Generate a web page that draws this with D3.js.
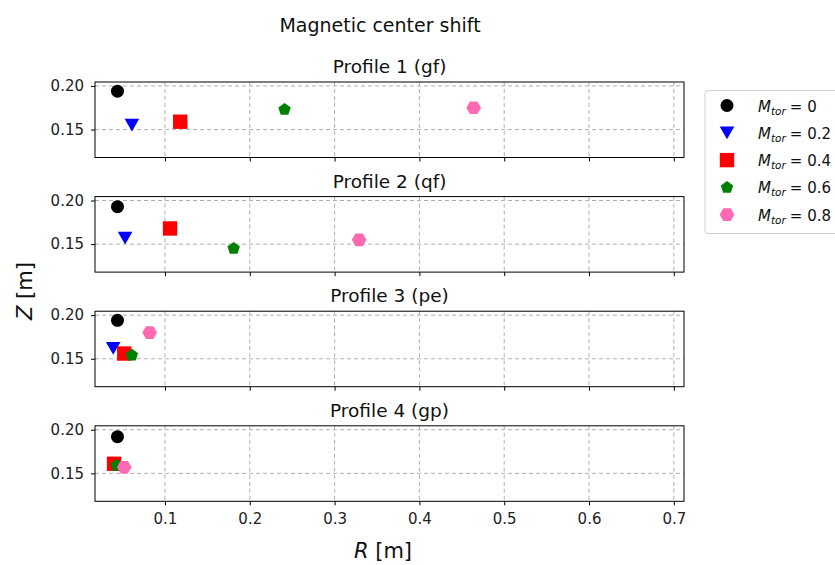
<!DOCTYPE html>
<html>
<head>
<meta charset="utf-8">
<script src="https://cdn.jsdelivr.net/npm/d3@7"></script>
<style>
  body { margin: 0; background: #fff; }
  svg { font-family: 'DejaVu Sans', sans-serif; }
</style>
</head>
<body>
<div id="chart"></div>
<script>
const profiles = ['Profile 1 (gf)', 'Profile 2 (qf)', 'Profile 3 (pe)', 'Profile 4 (gp)'];
const mtorValues = ['0', '0.2', '0.4', '0.6', '0.8'];
const markerColors = ['black', 'blue', 'red', 'green', 'hotpink'];
const markerShapes = ['circle', 'triangleDown', 'square', 'pentagon', 'hexagon'];
// one row per profile, one column per Mtor value
const rValues = [
    [0.044, 0.061, 0.118, 0.241, 0.464],
    [0.044, 0.053, 0.106, 0.181, 0.329],
    [0.044, 0.039, 0.052, 0.061, 0.082],
    [0.044, 0.040, 0.040, 0.043, 0.052],
];
const zValues = [
    [0.194, 0.155, 0.159, 0.173, 0.175],
    [0.193, 0.157, 0.168, 0.145, 0.155],
    [0.194, 0.162, 0.156, 0.154, 0.180],
    [0.192, 0.161, 0.161, 0.159, 0.157],
];
const xTicks = [0.1, 0.2, 0.3, 0.4, 0.5, 0.6, 0.7];
const yTicks = [0.15, 0.20];

const width = 835, height = 565;
const panel = { left: 95, right: 684, top: 82, step: 114.6, height: 75.5 };

const svg = d3.select('#chart').append('svg')
    .attr('width', width).attr('height', height);

const xScale = d3.scaleLinear().domain([0.0175, 0.712]).range([panel.left, panel.right]);

function markerPath(shape, s) {
    if (shape === 'circle') return d3.symbol(d3.symbolCircle, Math.PI * s * s)();
    if (shape === 'square') return d3.symbol(d3.symbolSquare, 4 * s * s)();
    let n, rot, r;
    if (shape === 'triangleDown') { n = 3; rot = Math.PI / 2; r = s * 1.3; }
    if (shape === 'pentagon') { n = 5; rot = -Math.PI / 2; r = s * 1.05; }
    if (shape === 'hexagon') { n = 6; rot = 0; r = s * 1.05; }
    const pts = d3.range(n).map(i => {
        const a = rot + i * 2 * Math.PI / n;
        return [r * Math.cos(a), r * Math.sin(a)];
    });
    if (shape === 'triangleDown') pts.forEach(p => p[1] -= r * 0.25);
    return 'M' + pts.map(p => p.join(',')).join('L') + 'Z';
}
const markerSize = [6.5, 6.5, 7.2, 6.2, 7];

profiles.forEach((title, i) => {
    const top = panel.top + i * panel.step;
    const bottom = top + panel.height;
    const yScale = d3.scaleLinear().domain([0.118, 0.2045]).range([bottom, top]);
    const g = svg.append('g');

    // grid
    g.append('g').selectAll('line').data(xTicks).join('line')
        .attr('x1', d => xScale(d)).attr('x2', d => xScale(d))
        .attr('y1', top).attr('y2', bottom)
        .attr('stroke', '#b0b0b0').attr('stroke-dasharray', '4,3').attr('stroke-width', 1);
    g.append('g').selectAll('line').data(yTicks).join('line')
        .attr('x1', panel.left).attr('x2', panel.right)
        .attr('y1', d => yScale(d)).attr('y2', d => yScale(d))
        .attr('stroke', '#b0b0b0').attr('stroke-dasharray', '4,3').attr('stroke-width', 1);

    // axes
    const xAxis = d3.axisBottom(xScale).tickValues(xTicks).tickSize(4).tickPadding(8)
        .tickFormat(i < profiles.length - 1 ? '' : d3.format('.1f'));
    const xg = g.append('g').attr('transform', `translate(0,${bottom})`).call(xAxis);
    const yg = g.append('g').attr('transform', `translate(${panel.left},0)`)
        .call(d3.axisLeft(yScale).tickValues(yTicks).tickFormat(d3.format('.2f')).tickSize(4).tickPadding(7));
    [xg, yg].forEach(a => {
        a.select('.domain').remove();
        a.selectAll('line').attr('stroke', '#000');
        a.selectAll('text').attr('fill', '#222').style('font-size', '15px')
            .style('font-family', "'DejaVu Sans', sans-serif");
    });

    g.append('rect')
        .attr('x', panel.left).attr('y', top)
        .attr('width', panel.right - panel.left).attr('height', panel.height)
        .attr('fill', 'none').attr('stroke', '#000').attr('stroke-width', 1);

    g.append('text')
        .attr('x', (panel.left + panel.right) / 2).attr('y', top - 9)
        .attr('text-anchor', 'middle').style('font-size', '18.5px').attr('fill', '#111')
        .text(title);

    // markers
    mtorValues.forEach((m, j) => {
        g.append('path')
            .attr('d', markerPath(markerShapes[j], markerSize[j]))
            .attr('transform', `translate(${xScale(rValues[i][j])},${yScale(zValues[i][j])})`)
            .attr('fill', markerColors[j]);
    });
});

svg.append('text').attr('x', 380).attr('y', 32).attr('text-anchor', 'middle')
    .style('font-size', '19px').attr('fill', '#111').text('Magnetic center shift');

const yLab = svg.append('text')
    .attr('transform', `translate(32,291) rotate(-90)`)
    .attr('text-anchor', 'middle').style('font-size', '21px').attr('fill', '#111');
yLab.append('tspan').style('font-style', 'italic').text('Z');
yLab.append('tspan').text(' [m]');

const xLab = svg.append('text').attr('x', 383).attr('y', 558)
    .attr('text-anchor', 'middle').style('font-size', '21px').attr('fill', '#111');
xLab.append('tspan').style('font-style', 'italic').text('R');
xLab.append('tspan').text(' [m]');

// legend
const legend = svg.append('g');
legend.append('rect').attr('x', 705).attr('y', 90.5).attr('width', 150).attr('height', 143)
    .attr('rx', 3).attr('fill', '#fff').attr('stroke', '#d0d0d0');
mtorValues.forEach((m, j) => {
    const y = 105.5 + j * 27.3;
    legend.append('path')
        .attr('d', markerPath(markerShapes[j], markerSize[j]))
        .attr('transform', `translate(727,${y})`)
        .attr('fill', markerColors[j]);
    const t = legend.append('text').attr('x', 758).attr('y', y + 6)
        .style('font-size', '15px').attr('fill', '#111');
    t.append('tspan').style('font-style', 'italic').text('M');
    t.append('tspan').style('font-style', 'italic').style('font-size', '10.5px').attr('dy', 3).text('tor');
    t.append('tspan').attr('dy', -3).attr('dx', 4).text('= ' + m);
});
</script>
</body>
</html>
